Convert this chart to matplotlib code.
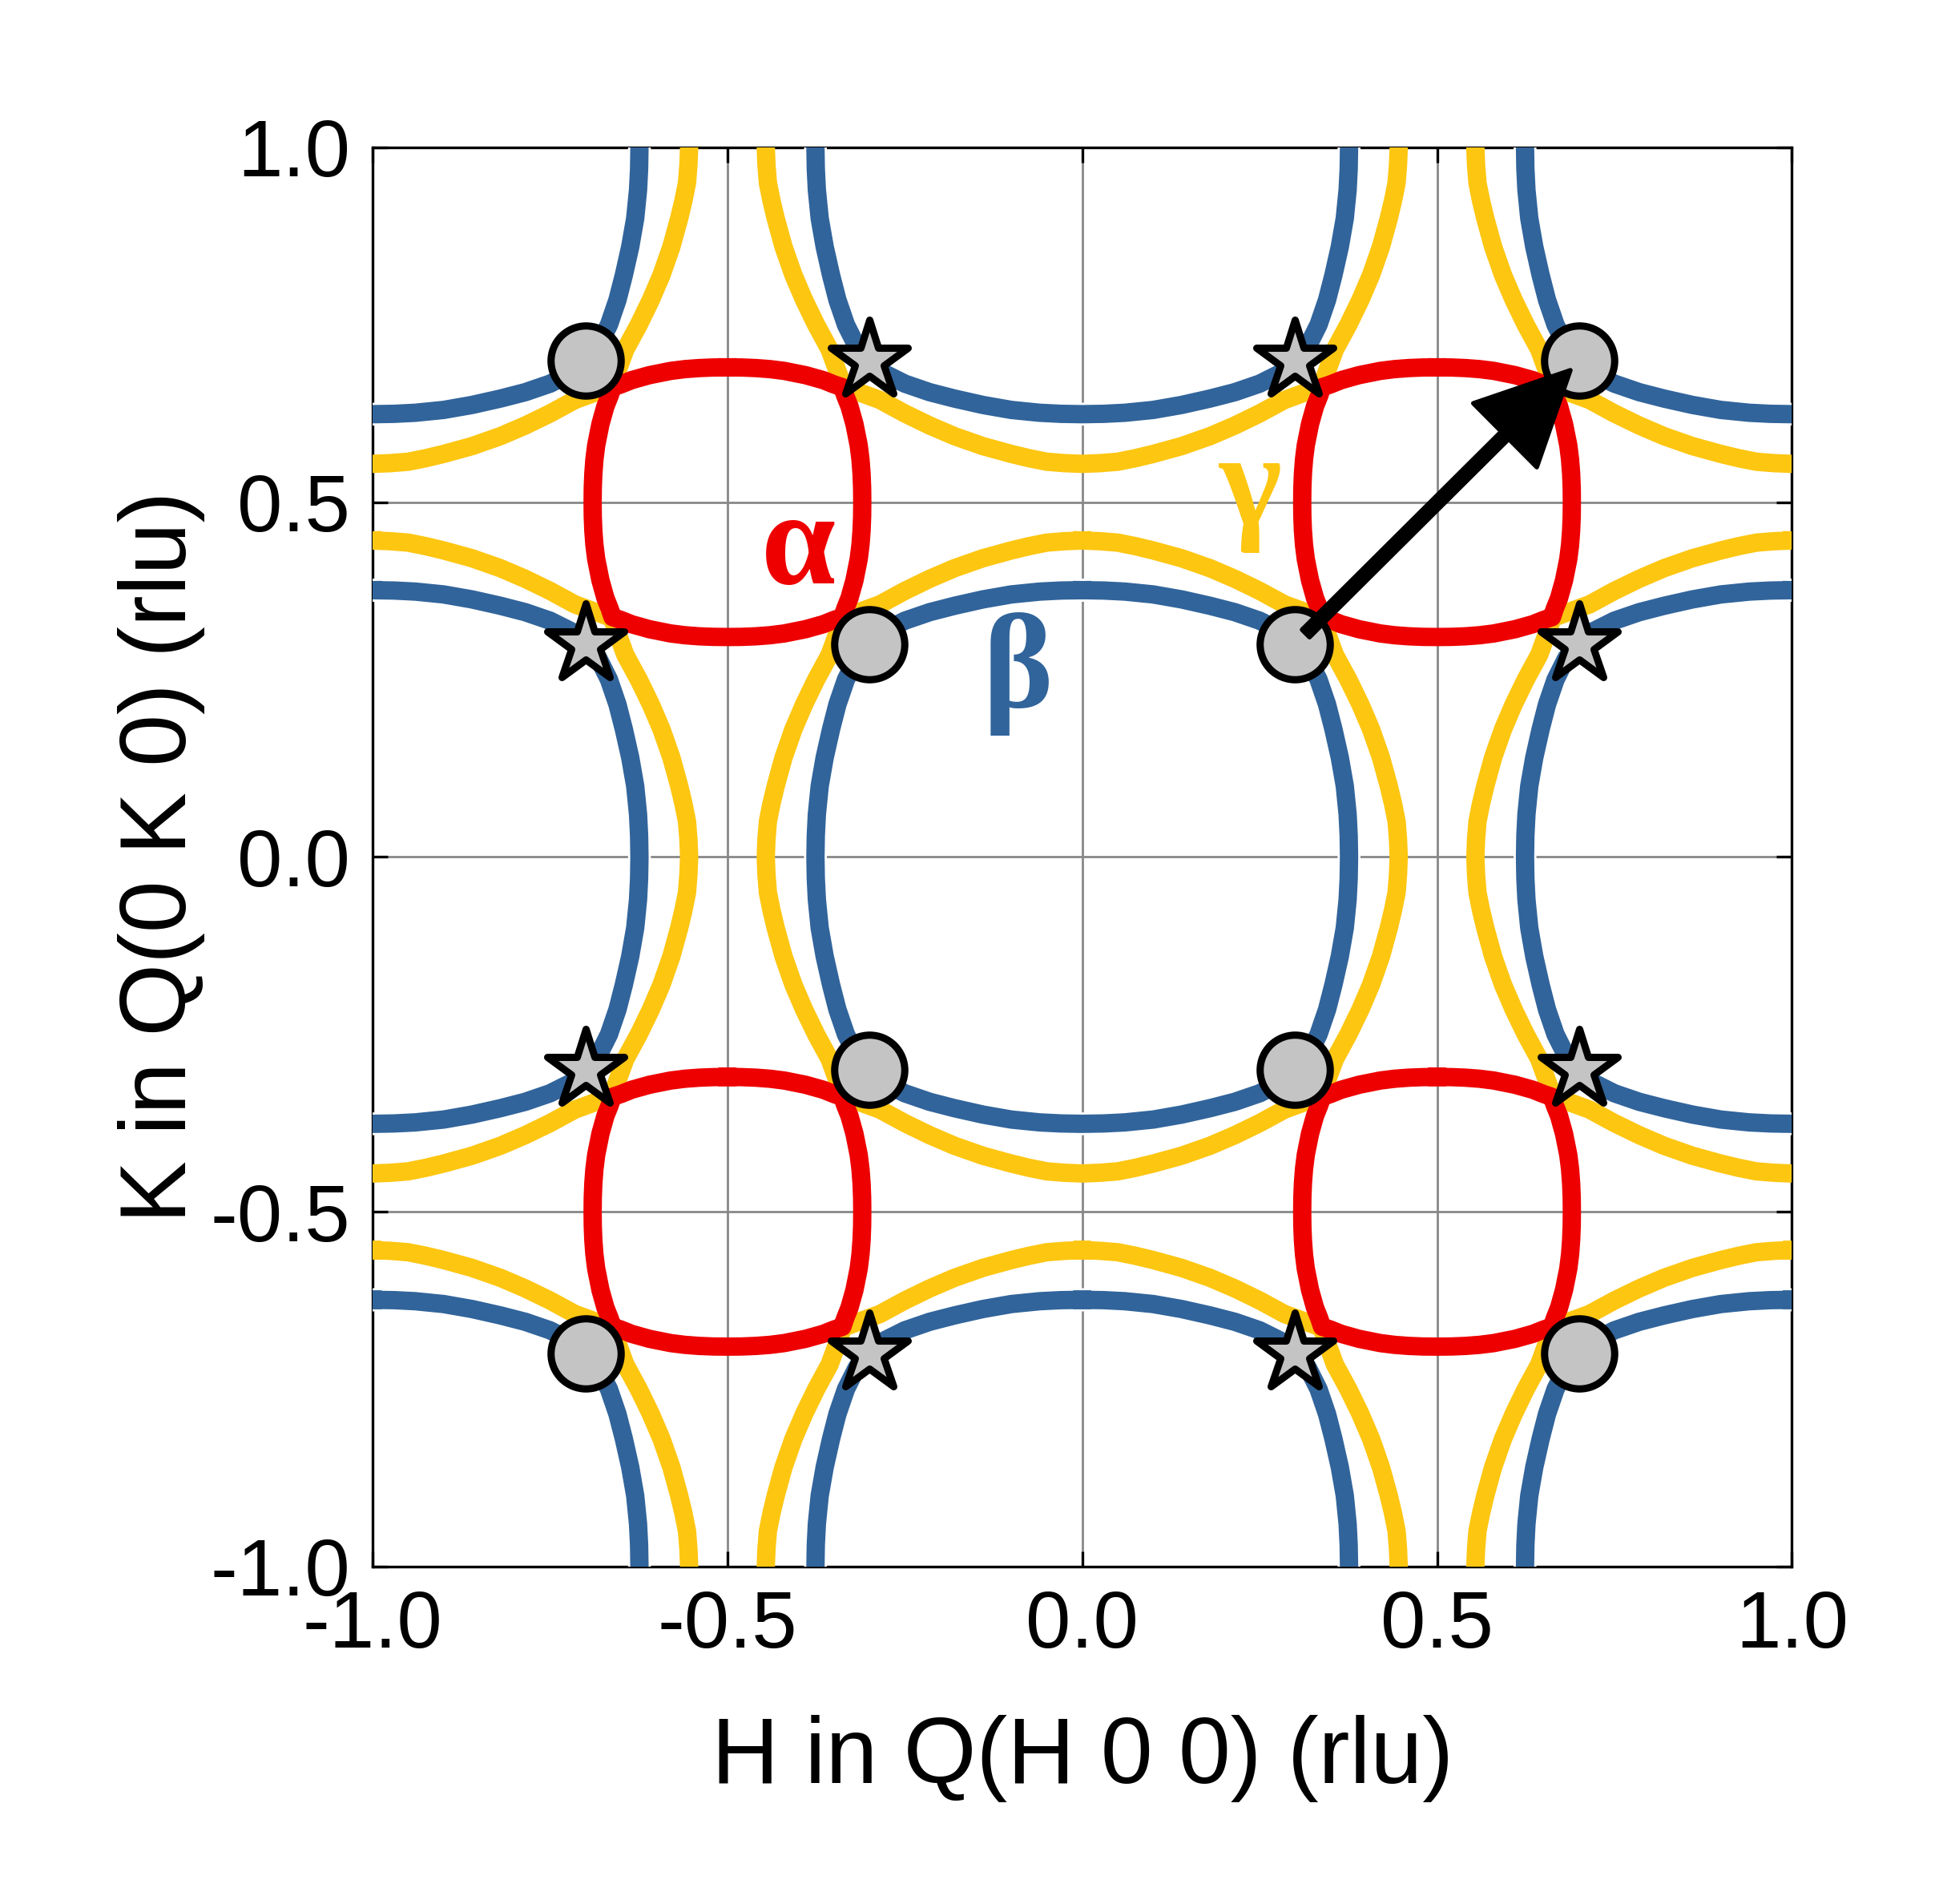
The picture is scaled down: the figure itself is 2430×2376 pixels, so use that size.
import numpy as np
import matplotlib
matplotlib.use("Agg")
import matplotlib.pyplot as plt
from matplotlib.markers import MarkerStyle
from matplotlib.patches import FancyArrow
import matplotlib.patheffects as pe

plt.rcParams['font.family'] = ['Liberation Sans', 'DejaVu Sans']

# ---- digitised octants (x from 0 up to the diagonal), pockets repeat by symmetry ----
# beta (blue) and gamma (yellow) pockets around every Gamma point
beta_x = [0.000, 0.030, 0.060, 0.100, 0.140, 0.180, 0.215, 0.250, 0.280, 0.302]
beta_y = [0.376, 0.3755, 0.374, 0.370, 0.363, 0.354, 0.345, 0.333, 0.318, 0.302]
gam_x = [0.000, 0.025, 0.050, 0.075, 0.100, 0.140, 0.180, 0.215, 0.250, 0.285, 0.337]
gam_y = [0.446, 0.445, 0.443, 0.438, 0.432, 0.421, 0.407, 0.392, 0.375, 0.356, 0.337]
# alpha (red) pocket, offsets from its centre
alp_dx = [0.000, 0.020, 0.040, 0.060, 0.080, 0.110, 0.135, 0.150, 0.162]
alp_dy = [0.190, 0.1898, 0.189, 0.1875, 0.185, 0.179, 0.172, 0.166, 0.162]

gamma_centers = [(-1, -1), (-1, 0), (-1, 1), (0, -1), (0, 0), (0, 1), (1, -1), (1, 0), (1, 1)]
alpha_centers = [(-0.5, 0.5), (0.5, 0.5), (-0.5, -0.5), (0.5, -0.5)]

circ_x = [-0.7, -0.3, 0.3, 0.7, -0.7, -0.3, 0.3, 0.7]
circ_y = [0.7, 0.3, 0.3, 0.7, -0.7, -0.3, -0.3, -0.7]
star_x = [-0.3, 0.3, -0.7, 0.7, -0.7, 0.7, -0.3, 0.3]
star_y = [0.7, 0.7, 0.3, 0.3, -0.3, -0.3, -0.7, -0.7]

arrow_start = (0.315, 0.315)
arrow_end = (0.688, 0.686)

ticks = [-1.0, -0.5, 0.0, 0.5, 1.0]

BLUE = '#31649B'
YELLOW = '#FDC611'
RED = '#EE0000'
GREY = '#C4C4C4'


def full_curve(ox, oy):
    ox = np.asarray(ox)
    oy = np.asarray(oy)
    # first quadrant: top point -> diagonal -> right point
    qx = np.concatenate([ox, oy[::-1][1:]])
    qy = np.concatenate([oy, ox[::-1][1:]])
    # go round: Q1 (top->right), Q4, Q3, Q2
    x = np.concatenate([qx, qx[::-1][1:], -qx[1:], -qx[::-1][1:]])
    y = np.concatenate([qy, -qy[::-1][1:], -qy[1:], qy[::-1][1:]])
    return x, y


fig = plt.figure(figsize=(24.3, 23.76), dpi=100)
ax = fig.add_axes([0.1914, 0.1772, 0.7289, 0.7454])

LW = 16.5
bx, by = full_curve(beta_x, beta_y)
gx, gy = full_curve(gam_x, gam_y)
ax_, ay_ = full_curve(alp_dx, alp_dy)

for cx, cy in gamma_centers:
    ax.plot(gx + cx, gy + cy, color=YELLOW, lw=LW, solid_joinstyle='round', zorder=3)
for cx, cy in gamma_centers:
    ax.plot(bx + cx, by + cy, color=BLUE, lw=LW, solid_joinstyle='round', zorder=4,
            path_effects=[pe.Stroke(linewidth=LW + 4, foreground='white'), pe.Normal()])
for cx, cy in alpha_centers:
    ax.plot(ax_ + cx, ay_ + cy, color=RED, lw=LW, solid_joinstyle='round', zorder=5)

ax.plot(circ_x, circ_y, ls='none', marker='o', ms=63, mfc=GREY, mec='black', mew=6.5, zorder=6)
ax.plot(star_x, star_y, ls='none', marker=MarkerStyle('*', joinstyle='round'), ms=73,
        mfc=GREY, mec='black', mew=6.5, zorder=6)

arr = FancyArrow(arrow_start[0], arrow_start[1],
                 arrow_end[0] - arrow_start[0], arrow_end[1] - arrow_start[1],
                 width=0.015, head_width=0.127, head_length=0.13, length_includes_head=True,
                 facecolor='black', edgecolor='black', lw=4, joinstyle='round', zorder=7)
ax.add_patch(arr)

greek = dict(family=['Liberation Serif', 'DejaVu Serif'], fontsize=120, fontweight='bold',
             ha='center', va='baseline', zorder=8)
ax.text(-0.400, 0.386, 'α', color=RED, **greek)
ax.text(-0.091, 0.212, 'β', color=BLUE, **greek)
ax.text(0.237, 0.469, 'γ', color=YELLOW, **greek)

ax.set_xlim(-1, 1)
ax.set_ylim(-1, 1)
ax.set_xticks(ticks)
ax.set_yticks(ticks)
ax.set_xticklabels([f'{t:.1f}' for t in ticks])
ax.set_yticklabels([f'{t:.1f}' for t in ticks])
ax.grid(True, color='#888888', lw=2)
ax.set_axisbelow(True)
ax.tick_params(direction='in', length=14, width=2.4, labelsize=73, pad=20,
               top=True, right=True)
for s in ax.spines.values():
    s.set_linewidth(2.4)

ax.set_xlabel('H in Q(H 0 0) (rlu)', fontsize=84)
ax.set_ylabel('K in Q(0 K 0) (rlu)', fontsize=84)
ax.xaxis.set_label_coords(0.5, -0.1045)
ax.yaxis.set_label_coords(-0.118, 0.5)

fig.savefig('out.png', dpi=100)
